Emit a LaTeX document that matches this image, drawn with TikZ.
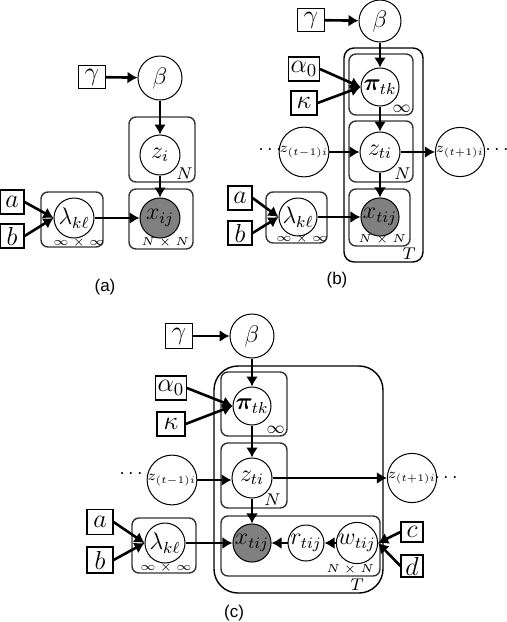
\RequirePackage{fix-cm}
\documentclass[tikz,border=0pt]{standalone}
\usepackage{bm}
\usepackage{fontspec}
\newfontfamily\capfont{Liberation Sans}
\usetikzlibrary{arrows.meta}
\tikzset{
 lat/.style={circle,draw,line width=0.5pt,minimum size=20pt,inner sep=0pt,font=\fontsize{12}{14}\selectfont},
 obs/.style={lat,fill=black!50},
 sml/.style={lat,font=\fontsize{7.2}{8}\selectfont},
 cst/.style={rectangle,draw,line width=0.6pt,minimum width=13pt,minimum height=12pt,inner sep=1pt,font=\fontsize{13}{15}\selectfont},
 edge/.style={line width=1.3pt,-{Latex[length=5pt,width=6pt]}},
 plate/.style={draw=black!80,line width=0.7pt,rounded corners=3.5pt},
 plab/.style={font=\fontsize{8.5}{10}\selectfont,inner sep=1pt},
 slab/.style={font=\fontsize{5.8}{6.5}\selectfont,inner sep=0.8pt},
 dotlab/.style={font=\fontsize{10}{11}\selectfont,inner sep=0pt},
 captxt/.style={font=\capfont\fontsize{8.5}{10}\selectfont},
}
\begin{document}
\begin{tikzpicture}[x=0.5pt,y=-0.5pt]
\useasboundingbox (0,0) rectangle (507,622);
% ---------------- (a)
\draw[plate] (129,117) rectangle (195,182);
\draw[plate] (129,189) rectangle (193,249);
\draw[plate] (41,192) rectangle (103,247);
\node[plab,anchor=south east] (la1) at (195,182) {$N$};
\node[slab,anchor=south east] (la2) at (191,249) {$N\times N$};
\node[slab,anchor=south] (la3) at (79,249) {$\infty\times\infty$};
\node[cst,minimum width=13.5pt,minimum height=11.5pt] (ga) at (92,77) {$\gamma$};
\node[lat,minimum size=22pt] (bea) at (160,78) {$\beta$};
\node[lat] (za) at (160,155) {$z_i$};
\node[obs] (xa) at (160,218) {$x_{ij}$};
\node[lat] (lama) at (74,218) {$\lambda_{k\ell}$};
\node[cst,minimum width=12pt] (aa) at (12,202) {$a$};
\node[cst,minimum width=12pt] (ba) at (12,236) {$b$};
\draw[edge] (ga) -- (bea);
\draw[edge] (bea) -- (za);
\draw[edge] (za) -- (xa);
\draw[edge] (lama) -- (xa);
\draw[edge] (aa.east) -- (lama.west);
\draw[edge] (ba.east) -- (lama.west);
\node[captxt] (capa) at (105,287) {(a)};
% ---------------- (b)
\draw[draw=black,line width=0.7pt,rounded corners=5pt] (344,48) rectangle (423,262);
\draw[plate] (349,54) rectangle (413,115);
\draw[plate] (349,121) rectangle (413,182);
\draw[plate] (349,189) rectangle (410,246);
\draw[plate] (266,192) rectangle (327,243);
\node[plab,anchor=south east] (lb1) at (413,115) {$\infty$};
\node[plab,anchor=south east] (lb2) at (413,182) {$N$};
\node[slab,anchor=south east] (lb3) at (408,246) {$N\times N$};
\node[plab,anchor=south east] (lb4) at (418,262) {$T$};
\node[slab,anchor=south] (lb5) at (302,245) {$\infty\times\infty$};
\node[cst,minimum width=13.5pt,minimum height=11.5pt] (gb) at (311,20) {$\gamma$};
\node[lat,minimum size=21pt] (beb) at (380,21) {$\beta$};
\node[lat,minimum size=19pt] (pib) at (380,87) {$\bm{\pi}_{tk}$};
\node[cst] (alb) at (304,69) {$\alpha_0$};
\node[cst] (kab) at (304,103) {$\kappa$};
\node[lat] (zb) at (380,152) {$z_{ti}$};
\node[sml] (zpb) at (304,152) {$z_{(t-1)i}$};
\node[sml] (znb) at (460,152) {$z_{(t+1)i}$};
\node[dotlab] (d1b) at (270,150) {$\cdots$};
\node[dotlab] (d2b) at (497,150) {$\cdots$};
\node[obs,minimum size=19pt] (xb) at (380,217) {$x_{tij}$};
\node[lat,minimum size=19pt] (lamb) at (298,217) {$\lambda_{k\ell}$};
\node[cst,minimum width=12pt] (ab) at (240,198) {$a$};
\node[cst,minimum width=12pt] (bb) at (240,233) {$b$};
\draw[edge] (gb) -- (beb);
\draw[edge] (beb) -- (pib);
\draw[edge] (alb.east) -- (pib.west);
\draw[edge] (kab.east) -- (pib.west);
\draw[edge] (pib) -- (zb);
\draw[edge] (zpb) -- (zb);
\draw[edge] (zb) -- (znb);
\draw[edge] (zb) -- (xb);
\draw[edge] (lamb) -- (xb);
\draw[edge] (ab.east) -- (lamb.west);
\draw[edge] (bb.east) -- (lamb.west);
\node[captxt] (capb) at (337,280) {(b)};
% ---------------- (c)
\draw[draw=black,line width=0.7pt,rounded corners=12pt] (214,366) rectangle (383,593);
\draw[plate] (221,372) rectangle (287,436);
\draw[plate] (221,443) rectangle (287,508);
\draw[plate] (221,516) rectangle (380,576);
\draw[plate] (132,518) rectangle (196,573);
\node[plab,anchor=south east] (lc1) at (287,436) {$\infty$};
\node[plab,anchor=south east] (lc2) at (283,508) {$N$};
\node[slab,anchor=south east] (lc3) at (376,576) {$N\times N$};
\node[plab,anchor=south east] (lc4) at (366,593) {$T$};
\node[slab,anchor=south] (lc5) at (166,574) {$\infty\times\infty$};
\node[cst,minimum width=13.5pt,minimum height=12.5pt] (gc) at (179,336) {$\gamma$};
\node[lat,minimum size=22pt] (bec) at (252,336) {$\beta$};
\node[lat,minimum size=19pt] (pic) at (252,406) {$\bm{\pi}_{tk}$};
\node[cst,minimum width=14pt] (alc) at (171,388) {$\alpha_0$};
\node[cst,minimum width=14pt] (kac) at (171,424) {$\kappa$};
\node[lat] (zc) at (252,478) {$z_{ti}$};
\node[sml,minimum size=21pt] (zpc) at (172,480) {$z_{(t-1)i}$};
\node[sml,minimum size=22pt] (znc) at (412,478) {$z_{(t+1)i}$};
\node[dotlab] (d1c) at (131,474) {$\cdots$};
\node[dotlab] (d2c) at (446,478) {$\cdots$};
\node[obs,minimum size=19pt] (xc) at (252,543) {$x_{tij}$};
\node[lat,minimum size=18pt] (rc) at (306,543) {$r_{tij}$};
\node[lat,minimum size=18pt] (wc) at (357,543) {$w_{tij}$};
\node[lat] (lamc) at (165,543) {$\lambda_{k\ell}$};
\node[cst,minimum width=13pt,minimum height=12.5pt] (ac) at (100,522) {$a$};
\node[cst,minimum width=13pt,minimum height=13pt] (bc) at (100,560) {$b$};
\node[cst,minimum width=11pt,minimum height=10pt] (cc) at (412,532) {$c$};
\node[cst,minimum width=11pt,minimum height=10pt] (dc) at (412,566) {$d$};
\draw[edge] (gc) -- (bec);
\draw[edge] (bec) -- (pic);
\draw[edge] (alc.east) -- (pic.west);
\draw[edge] (kac.east) -- (pic.west);
\draw[edge] (pic) -- (zc);
\draw[edge] (zpc.east) -- (zc.west |- zpc.east);
\draw[edge] (zc) -- (znc);
\draw[edge] (zc) -- (xc);
\draw[edge] (lamc) -- (xc);
\draw[edge] (wc) -- (rc);
\draw[edge] (rc) -- (xc);
\draw[edge] (cc.west) -- (wc.east);
\draw[edge] (dc.west) -- (wc.east);
\draw[edge] (ac.east) -- (lamc.west);
\draw[edge] (bc.east) -- (lamc.west);
\node[captxt] (capc) at (234,613) {(c)};
\end{tikzpicture}
\end{document}
